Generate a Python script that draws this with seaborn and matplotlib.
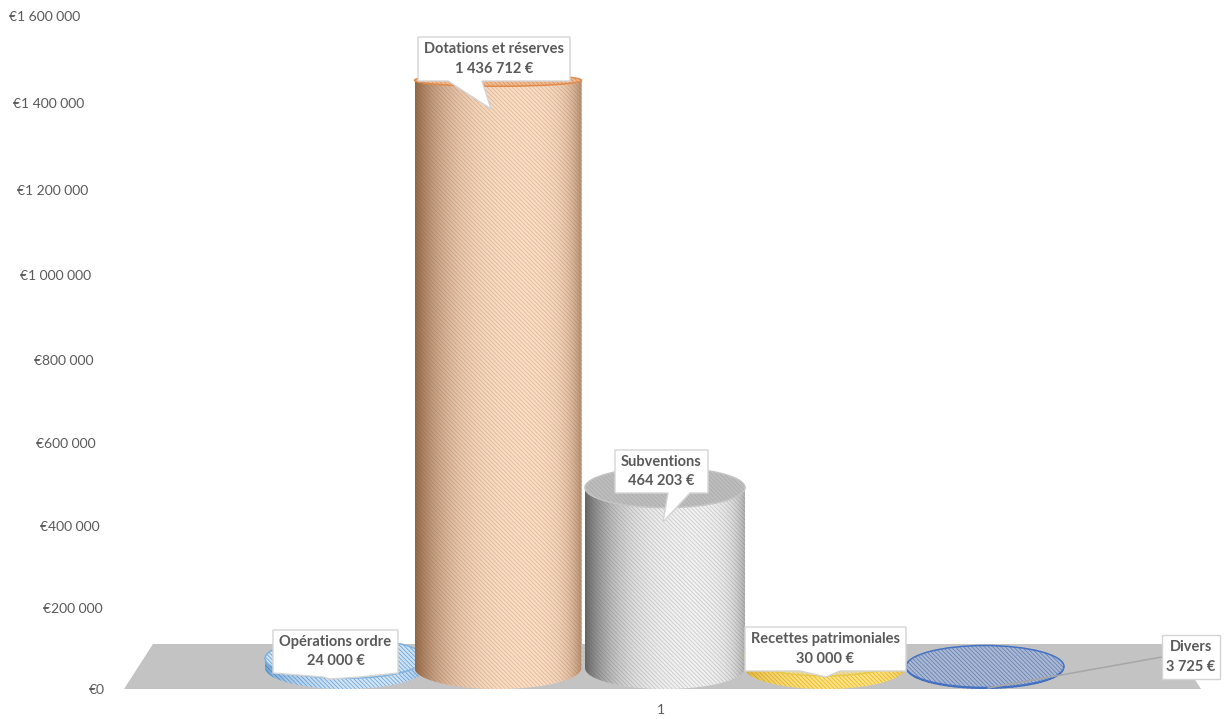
import numpy as np
import pandas as pd
import matplotlib
matplotlib.use('Agg')
import matplotlib.pyplot as plt
import seaborn as sns
from matplotlib.patches import Polygon, Ellipse
from matplotlib.transforms import IdentityTransform
from matplotlib.colors import to_rgb

# data
series_names = ['Opérations ordre', 'Dotations et réserves', 'Subventions',
                'Recettes patrimoniales', 'Divers']
series_values = [24000, 1436712, 464203, 30000, 3725]
category = '1'
y_ticks = [0, 200000, 400000, 600000, 800000, 1000000, 1200000, 1400000, 1600000]

# look of the marks
face_colors = ['#d6e7f7', '#f9dfc9', '#f2f2f2', '#ffe48a', '#4472c4']
hatch_colors = ['#5b9bd5', '#e6b48c', '#c8c8c8', '#e8b30c', '#3a62ad']
shade_colors = ['#2e75b6', '#7a4a28', '#4d4d4d', '#b8860b', '#2f5597']
shade_left = [0.6, 0.8, 0.85, 0.5, 0.3]
shade_right = [0.4, 0.55, 0.4, 0.3, 0.2]
top_faces = ['#cfe2f5', '#eebd96', '#bdbdbd', '#e9dca8', '#a9b8d4']
top_hatches = ['#5b9bd5', '#e08a4c', '#a9a9a9', '#e8c94a', '#5e77a8']
rim_colors = ['#7fb2e0', '#e08a4c', '#c4c4c4', '#e8c94a', '#4472c4']
width_px = [160, 167, 160, 160, 158]
nudge_px = [4, -3, 4, 4, 4]
lift_px = [21, 7, 12, 21, 21]
top_h_px = [40, 12, 40, 40, 42]
base_h_px = 42

# callout boxes: box left, top, right, bottom and the tail points, in pixels
boxes = [(273, 630, 398, 673), (418, 37, 570, 81), (615, 450, 708, 493),
         (745, 627, 906, 671), (1162, 635, 1220, 679)]
tails = [[(323, 677), (330, 679), (360, 677)], [(448, 81), (491, 109), (482, 81)],
         [(668, 493), (663, 522), (690, 493)], [(800, 671), (826, 677), (840, 671)], None]

W, H = 1224, 719
TEXT = '#595959'


def P(x, y):
    return (x, H - y)


def fwd(v):
    u = np.asarray(v, dtype=float) / 200000
    return 80.55 * u + 0.446 * u ** 2


def inv(p):
    p = np.asarray(p, dtype=float)
    return 200000 * (-80.55 + np.sqrt(np.maximum(80.55 ** 2 + 4 * 0.446 * p, 0))) / (2 * 0.446)


sns.set_theme(style='white')
plt.rcParams['font.family'] = ['Lato', 'DejaVu Sans']
plt.rcParams['hatch.linewidth'] = 0.5

df = pd.DataFrame({'cat': [category] * len(series_names), 'name': series_names, 'value': series_values})

fig = plt.figure(figsize=(W / 100, H / 100), dpi=100)
ax = fig.add_axes([110 / W, (H - 689) / H, (W - 110) / W, (689 - 16) / H])
sns.barplot(data=df, x='cat', y='value', hue='name', hue_order=series_names, palette=face_colors,
            width=0.8, gap=0, legend=False, ax=ax, zorder=3)

ax.set_yscale('function', functions=(fwd, inv))
ax.set_ylim(0, 1600000)
ax.set_xlim(-(661 - 110) / 1000, (W - 661) / 1000)
ax.set_autoscale_on(False)
ax.set_xlabel('')
ax.set_ylabel('')
sns.despine(ax=ax, left=True, bottom=True)
ax.minorticks_off()

ax.set_yticks(y_ticks)
ax.set_yticklabels([('€' + f'{t:,}'.replace(',', ' ')) for t in y_ticks])
ax.tick_params(axis='both', length=0, labelsize=10, labelcolor=TEXT)
for tick, edge in zip(ax.yaxis.get_major_ticks(), [105, 103, 100, 96, 93, 91, 88, 84, 80]):
    tick.set_pad((110 - edge) * 0.72)
ax.tick_params(axis='x', pad=10.5)

# floor of the 3D chart
ax.add_patch(Polygon([P(124, 689), P(153, 644), P(1172, 644), P(1201, 689)], closed=True,
                     facecolor='#c3c3c3', edgecolor='none', transform=IdentityTransform(),
                     zorder=1, clip_on=False))

to_data = ax.transData.inverted()
t = np.linspace(0, np.pi, 80)

for i, bar in enumerate(ax.patches[:len(series_values)]):
    cx_disp = ax.transData.transform((bar.get_x() + bar.get_width() / 2, 0))[0] + nudge_px[i]
    half = width_px[i] / 2
    top_disp = ax.transData.transform((0, series_values[i]))[1] + lift_px[i]
    base_disp = (H - 689) + base_h_px / 2
    z = 3 + i * 0.01 if i != 1 else 3.5

    # the bar itself runs from the centre of the base to the centre of the top
    x0 = to_data.transform((cx_disp - half, base_disp))
    x1 = to_data.transform((cx_disp + half, top_disp))
    bar.set_x(x0[0])
    bar.set_width(x1[0] - x0[0])
    bar.set_y(x0[1])
    bar.set_height(x1[1] - x0[1])
    bar.set_facecolor(face_colors[i])
    bar.set_edgecolor(hatch_colors[i])
    bar.set_hatch('\\\\\\\\\\\\\\\\')
    bar.set_linewidth(0)
    bar.set_zorder(z)

    # rounded base and clip outline of the cylinder
    low = np.column_stack([cx_disp - half * np.cos(t), base_disp - base_h_px / 2 * np.sin(t)])
    ax.add_patch(Polygon(low, closed=True, facecolor=face_colors[i], edgecolor=hatch_colors[i],
                         hatch='\\\\\\\\\\\\\\\\', linewidth=0, transform=IdentityTransform(),
                         zorder=z, clip_on=False))
    body = np.vstack([low, [[cx_disp + half, top_disp], [cx_disp - half, top_disp]]])
    clip = Polygon(body, closed=True, transform=IdentityTransform())

    # shading across the width
    s = np.linspace(0, 1, 200)
    rgba = np.zeros((1, 200, 4))
    rgba[..., :3] = to_rgb(shade_colors[i])
    rgba[..., 3] = shade_left[i] * (1 - s) ** 5 + shade_right[i] * s ** 12
    img = ax.imshow(rgba, aspect='auto', origin='lower', transform=IdentityTransform(),
                    extent=(cx_disp - half, cx_disp + half, base_disp - base_h_px / 2, top_disp),
                    zorder=z + 0.001, clip_on=True)
    img.set_clip_path(clip)

    # top face
    ax.add_patch(Ellipse((cx_disp, top_disp), width_px[i], top_h_px[i], facecolor=top_faces[i],
                         edgecolor=top_hatches[i], hatch='\\\\\\\\\\\\\\\\', linewidth=0,
                         transform=IdentityTransform(), zorder=z + 0.002, clip_on=False))
    ax.add_patch(Ellipse((cx_disp, top_disp), width_px[i], top_h_px[i], facecolor='none',
                         edgecolor=rim_colors[i], linewidth=1.1,
                         transform=IdentityTransform(), zorder=z + 0.003, clip_on=False))

ax.set_xlim(-(661 - 110) / 1000, (W - 661) / 1000)
ax.set_ylim(0, 1600000)

# leader line of the smallest value
ax.plot([988, 1162], [H - 688, H - 657], color='#a6a6a6', lw=1.1, transform=IdentityTransform(),
        zorder=4, clip_on=False)

# callouts
for name, value, box, tail in zip(series_names, series_values, boxes, tails):
    l, tp, r, b = box
    pts = [P(l, tp), P(r, tp), P(r, b)]
    if tail is not None:
        pts += [P(*tail[2]), P(*tail[1]), P(*tail[0])]
    pts.append(P(l, b))
    ax.add_patch(Polygon(pts, closed=True, facecolor='white', edgecolor='#d4d4d4', linewidth=1,
                         transform=IdentityTransform(), zorder=5, clip_on=False))
    label = name + '\n' + f'{value:,}'.replace(',', ' ') + ' €'
    ax.text((l + r) / 2, H - (tp + b) / 2, label, ha='center', va='center', fontsize=10.5,
            fontweight='bold', color=TEXT, linespacing=1.5, transform=IdentityTransform(), zorder=6)

fig.savefig('out.png', dpi=100)
